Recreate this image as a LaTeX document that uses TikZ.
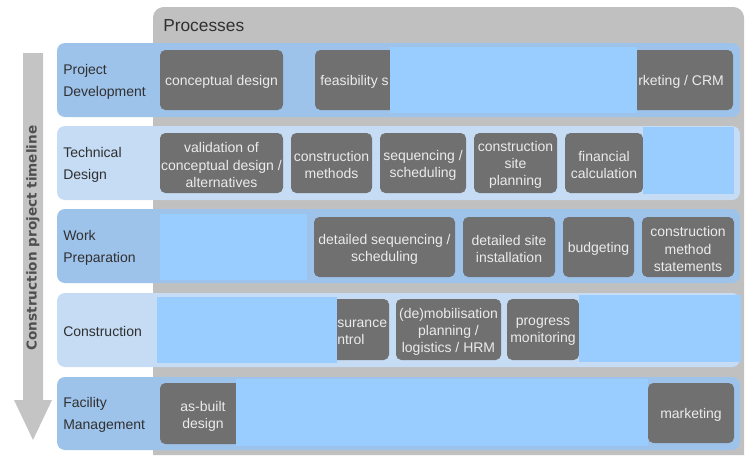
\documentclass[tikz,border=0pt]{standalone}
\usepackage{fontspec}
\setmainfont{Liberation Sans}
\newfontfamily\timelinefont{DejaVu Sans}
\usetikzlibrary{fit}
\definecolor{panel}{HTML}{C0C0C0}
\definecolor{arrowgray}{HTML}{C4C4C4}
\definecolor{rowdark}{HTML}{9EC3EB}
\definecolor{rowlight}{HTML}{C5DCF4}
\definecolor{cover}{HTML}{99CCFF}
\definecolor{boxgray}{HTML}{707070}
\definecolor{boxtext}{HTML}{EBEBEB}
\definecolor{labeltext}{HTML}{303030}
\tikzset{
  rowdarkbox/.style={fill=rowdark, rounded corners=6},
  rowlightbox/.style={fill=rowlight, rounded corners=6},
  coverbox/.style={fill=cover},
  proc/.style={fill=boxgray, rounded corners=4, inner sep=0pt},
  proctext/.style={inner sep=0pt, text=boxtext, align=center, yshift=-1.5pt,
    font=\fontsize{10.5}{12.8}\selectfont},
  rowlabel/.style={anchor=west, inner sep=0pt, align=left, text=labeltext,
    font=\fontsize{10.5}{16.5}\selectfont},
}
\begin{document}
\begin{tikzpicture}[x=0.75pt, y=-0.75pt]
\useasboundingbox (0,0) rectangle (750,455);
% processes panel
\fill[panel] (153,455) [rounded corners=8] -- (153,7) -- (744,7) [sharp corners] -- (744,455) -- cycle;
\node[anchor=west, inner sep=0pt, text=labeltext, font=\fontsize{13}{15}\selectfont] (proc) at (163,26) {Processes};

% timeline arrow
\fill[arrowgray] (23,53) -- (43,53) -- (43,400) -- (52,400) -- (33,440) -- (14,400) -- (23,400) -- cycle;
\node[rotate=90, inner sep=0pt, text=labeltext!85!white, font=\timelinefont\bfseries\fontsize{10.2}{12}\selectfont] (timeline) at (33,238) {Construction project timeline};

% rows
\fill[rowdarkbox] (57,43) rectangle (740,117);
\fill[rowlightbox] (57,126) rectangle (740,200);
\fill[rowdarkbox] (57,209) rectangle (740,283);
\fill[rowlightbox] (57,293) rectangle (740,367);
\fill[rowdarkbox] (57,377) rectangle (740,450);

\node[rowlabel] (l1) at (63,82) {Project\\Development};
\node[rowlabel] (l2) at (63,165) {Technical\\Design};
\node[rowlabel] (l3) at (63,248) {Work\\Preparation};
\node[rowlabel] (l4) at (63,331) {Construction};
\node[rowlabel] (l5) at (63,415) {Facility\\Management};

% row 1
\node[proc, fit={(160,50)(283,110)}] (cd) {};
\node[proctext] (cdt) at (cd.center) {conceptual design};
\node[proc, fit={(315,50)(395,110)}] (fs) {};
\node[proctext, anchor=west] (fst) at (320,80) {feasibility s};
\node[proc, fit={(630,50)(733,110)}] (crm) {};
\fill[coverbox] (390,47) rectangle (637,113);
\node[proctext, anchor=west] (crmt) at (638,80) {rketing / CRM};

% row 2
\node[proc, fit={(160,133)(283,193)}] (val) {};
\node[proctext] (valt) at (val.center) {validation of\\conceptual design /\\alternatives};
\node[proc, fit={(291,133)(372,193)}] (cm) {};
\node[proctext] (cmt) at (cm.center) {construction\\methods};
\node[proc, fit={(380,133)(466,193)}] (seq) {};
\node[proctext] (seqt) at (seq.center) {sequencing /\\scheduling};
\node[proc, fit={(474,133)(557,193)}] (csp) {};
\node[proctext] (cspt) at (csp.center) {construction\\site\\planning};
\node[proc, fit={(565,133)(643,193)}] (fin) {};
\node[proctext] (fint) at (fin.center) {financial\\calculation};
\fill[coverbox] (643,127) rectangle (734,194);

% row 3
\fill[coverbox] (160,214) rectangle (307,280);
\node[proc, fit={(314,217)(455,277)}] (dss) {};
\node[proctext] (dsst) at (dss.center) {detailed sequencing /\\scheduling};
\node[proc, fit={(463,217)(555,277)}] (dsi) {};
\node[proctext] (dsit) at (dsi.center) {detailed site\\installation};
\node[proc, fit={(563,217)(634,277)}] (bud) {};
\node[proctext] (budt) at (bud.center) {budgeting};
\node[proc, fit={(642,217)(734,277)}] (cms) {};
\node[proctext] (cmst) at (cms.center) {construction\\method\\statements};

% row 4
\node[proc, fit={(330,299)(389,360)}] (qa) {};
\fill[coverbox] (157,297) rectangle (337,363);
\node[proctext, anchor=west, align=left] (qat) at (337,330) {surance\\ntrol};
\node[proc, fit={(396,299)(501,360)}] (dem) {};
\node[proctext] (demt) at (dem.center) {(de)mobilisation\\planning /\\logistics / HRM};
\node[proc, fit={(507,299)(579,360)}] (prog) {};
\node[proctext] (progt) at (prog.center) {progress\\monitoring};
\fill[coverbox] (579,295) rectangle (741,362);

% row 5
\node[proc, fit={(160,383)(246,444)}] (asb) {};
\fill[coverbox] (236,379) rectangle (648,446);
\node[proctext] (asbt) at (203,414) {as-built\\design};
\node[proc, fit={(648,383)(734,443)}] (mkt) {};
\node[proctext] (mktt) at (mkt.center) {marketing};
\end{tikzpicture}
\end{document}
